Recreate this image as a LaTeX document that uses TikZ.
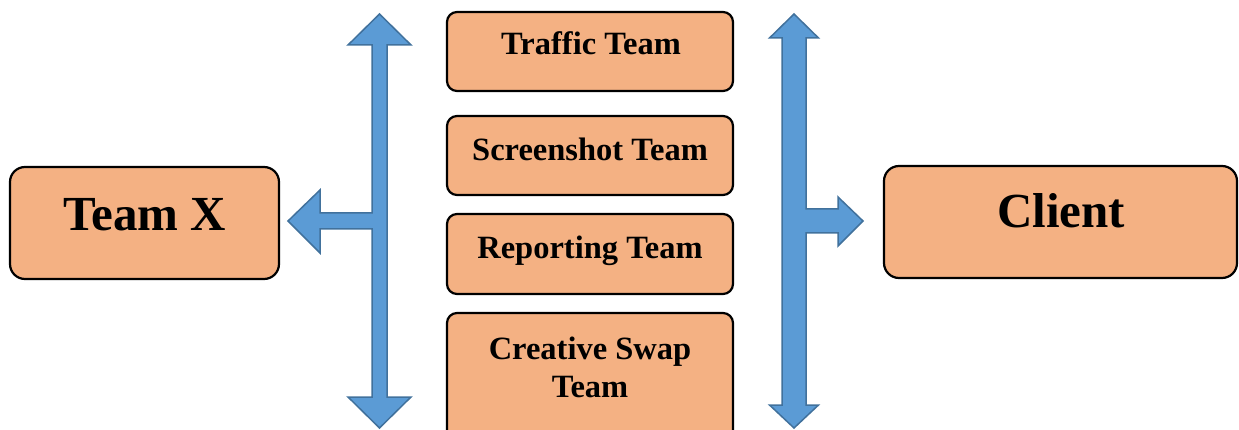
\documentclass[tikz,border=0pt]{standalone}
\usepackage{fontspec}
\setmainfont{Liberation Serif}
\definecolor{boxfill}{RGB}{244,177,131}
\definecolor{arrowfill}{RGB}{91,155,213}
\definecolor{arrowline}{RGB}{65,113,156}
\begin{document}
\begin{tikzpicture}[x=1pt,y=-1pt,
  teambox/.style={draw=black, line width=2.2pt, fill=boxfill, rounded corners=10pt, inner sep=0pt},
  bigbox/.style={teambox, rounded corners=15pt},
  smalltext/.style={anchor=base, inner sep=0pt, font=\fontsize{32.5}{38}\selectfont\bfseries},
  bigtext/.style={anchor=base, inner sep=0pt, font=\fontsize{49}{58}\selectfont\bfseries},
  blockarrow/.style={fill=arrowfill, draw=arrowline, line width=1.5pt, line join=miter}]
\clip (0,0) rectangle (1239,430);

% side boxes
\node[bigbox, minimum width=269pt, minimum height=112pt] (teamx) at (144.5,223) {};
\node[bigtext] (teamxtext) at (144.5,231) {Team X};
\node[bigbox, minimum width=353pt, minimum height=112pt] (client) at (1060.5,222) {};
\node[bigtext] (clienttext) at (1061,228) {Client};

% middle column of teams
\node[teambox, minimum width=286pt, minimum height=79pt] (traffic) at (590,51.5) {};
\node[smalltext] (traffictext) at (591,55) {Traffic Team};
\node[teambox, minimum width=286pt, minimum height=79pt] (screenshot) at (590,155.5) {};
\node[smalltext] (screenshottext) at (590,161) {Screenshot Team};
\node[teambox, minimum width=286pt, minimum height=80pt] (reporting) at (590,254) {};
\node[smalltext] (reportingtext) at (590,259) {Reporting Team};
\node[teambox, minimum width=286pt, minimum height=130pt] (creative) at (590,378) {};
\node[smalltext] (creativetext1) at (590,359) {Creative Swap};
\node[smalltext] (creativetext2) at (590,397) {Team};

% left block arrow: up/down with a branch to Team X
\draw[blockarrow] (379.5,14) -- (411,45) -- (387,45) -- (387,397) -- (411,397)
  -- (379.5,428) -- (348,397) -- (372,397) -- (372,229) -- (320,229)
  -- (320,253) -- (288,221) -- (320,190) -- (320,213) -- (372,213)
  -- (372,45) -- (348,45) -- cycle;

% right block arrow: up/down with a branch to Client
\draw[blockarrow] (794,14) -- (818.5,38) -- (806,38) -- (806,209) -- (838,209)
  -- (838,197) -- (863,221) -- (838,246) -- (838,233) -- (806,233)
  -- (806,405) -- (818.5,405) -- (794,428) -- (769.5,405) -- (782,405)
  -- (782,38) -- (769.5,38) -- cycle;
\end{tikzpicture}
\end{document}
